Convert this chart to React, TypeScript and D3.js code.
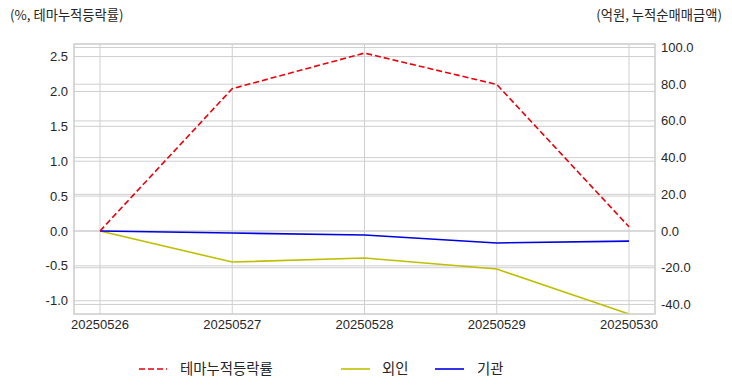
import React from "react";
import * as d3 from "d3";

const dates = ["20250526", "20250527", "20250528", "20250529", "20250530"];
const themeReturn = [0.0, 2.04, 2.55, 2.1, 0.06];
const foreign = [0.0, -16.9, -14.7, -20.7, -45.2];
const institution = [0.0, -1.1, -2.2, -6.5, -5.5];
const leftTicks = [-1.0, -0.5, 0.0, 0.5, 1.0, 1.5, 2.0, 2.5];
const rightTicks = [-40, -20, 0, 20, 40, 60, 80, 100];

const W = 732;
const H = 392;
const plot = { left: 74, right: 655, top: 44, bottom: 314 };
const tickFont = "'Liberation Sans', Arial, sans-serif";
const krFont = "'Noto Sans CJK KR', 'Noto Sans', sans-serif";

export default function App() {
  const x = d3.scalePoint<string>().domain(dates).range([100, 629]);
  const yL = d3.scaleLinear().domain([-1.19, 2.68]).range([plot.bottom, plot.top]);
  const yR = d3.scaleLinear().domain([-45.2, 101.9]).range([plot.bottom, plot.top]);

  const lineL = d3
    .line<number>()
    .x((_, i) => x(dates[i])!)
    .y((d) => yL(d));
  const lineR = d3
    .line<number>()
    .x((_, i) => x(dates[i])!)
    .y((d) => yR(d));

  const grid = "#cfcfcf";

  return (
    <svg
      width={W}
      height={H}
      style={{ position: "absolute", left: 0, top: 0, background: "#fff" }}
    >
      <defs>
        <clipPath id="plotclip">
          <rect
            x={plot.left}
            y={plot.top}
            width={plot.right - plot.left}
            height={plot.bottom - plot.top}
          />
        </clipPath>
      </defs>

      {/* grid */}
      {leftTicks.map((t) => (
        <line
          key={"gl" + t}
          x1={plot.left}
          x2={plot.right}
          y1={yL(t)}
          y2={yL(t)}
          stroke={grid}
          strokeWidth={1}
        />
      ))}
      {rightTicks.map((t) => (
        <line
          key={"gr" + t}
          x1={plot.left}
          x2={plot.right}
          y1={yR(t)}
          y2={yR(t)}
          stroke={grid}
          strokeWidth={1}
        />
      ))}
      {dates.map((d) => (
        <line
          key={"gx" + d}
          x1={x(d)}
          x2={x(d)}
          y1={plot.top}
          y2={plot.bottom}
          stroke={grid}
          strokeWidth={1}
        />
      ))}

      {/* series */}
      <g clipPath="url(#plotclip)">
        <path
          d={lineR(foreign)!}
          fill="none"
          stroke="#bfbf00"
          strokeWidth={1.6}
        />
        <path
          d={lineR(institution)!}
          fill="none"
          stroke="#0000e0"
          strokeWidth={1.6}
        />
        <path
          d={lineL(themeReturn)!}
          fill="none"
          stroke="#e8000b"
          strokeWidth={1.6}
          strokeDasharray="6,3"
        />
      </g>

      {/* frame */}
      <rect
        x={plot.left}
        y={plot.top}
        width={plot.right - plot.left}
        height={plot.bottom - plot.top}
        fill="none"
        stroke="#cccccc"
        strokeWidth={1.5}
      />

      {/* left ticks */}
      {leftTicks.map((t) => (
        <text
          key={"tl" + t}
          x={plot.left - 6}
          y={yL(t)}
          dy="0.35em"
          textAnchor="end"
          fontFamily={tickFont}
          fontSize={13}
          fill="#262626"
        >
          {d3.format(".1f")(t).replace("−", "-")}
        </text>
      ))}
      {/* right ticks */}
      {rightTicks.map((t) => (
        <text
          key={"tr" + t}
          x={plot.right + 6}
          y={yR(t)}
          dy="0.35em"
          textAnchor="start"
          fontFamily={tickFont}
          fontSize={13}
          fill="#262626"
        >
          {d3.format(".1f")(t).replace("−", "-")}
        </text>
      ))}
      {/* x ticks */}
      {dates.map((d) => (
        <text
          key={"tx" + d}
          x={x(d)}
          y={plot.bottom + 15}
          textAnchor="middle"
          fontFamily={tickFont}
          fontSize={13}
          fill="#262626"
        >
          {d}
        </text>
      ))}

      {/* axis titles */}
      <text x={10} y={20} fontFamily={krFont} fontSize={13.3} fill="#262626">
        (%, 테마누적등락률)
      </text>
      <text
        x={722}
        y={20}
        textAnchor="end"
        fontFamily={krFont}
        fontSize={13.3}
        fill="#262626"
      >
        (억원, 누적순매매금액)
      </text>

      {/* legend */}
      <g fontFamily={krFont} fontSize={14.4} fill="#262626">
        <line x1={139} x2={167} y1={369} y2={369} stroke="#e8000b" strokeWidth={1.6} strokeDasharray="6,3" />
        <text x={180} y={369} dy="0.35em">테마누적등락률</text>
        <line x1={341} x2={370} y1={369} y2={369} stroke="#bfbf00" strokeWidth={1.6} />
        <text x={382} y={369} dy="0.35em">외인</text>
        <line x1={435} x2={464} y1={369} y2={369} stroke="#0000e0" strokeWidth={1.6} />
        <text x={477} y={369} dy="0.35em">기관</text>
      </g>
    </svg>
  );
}
